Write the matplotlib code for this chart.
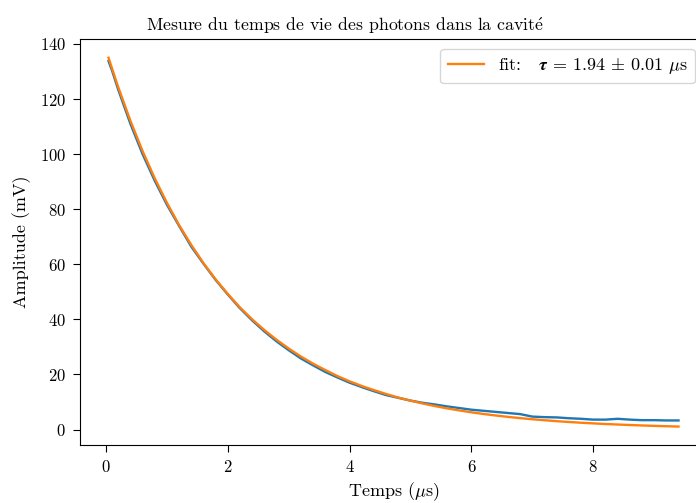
"""Photon lifetime in the cavity: measured ring-down and exponential fit."""

import matplotlib
matplotlib.use("Agg")
import matplotlib.pyplot as plt

t_data = [0.04, 0.1, 0.2, 0.4, 0.6, 0.8, 1.0, 1.2, 1.4, 1.6, 1.8, 2.0, 2.2, 2.4,
          2.6, 2.8, 3.0, 3.2, 3.4, 3.6, 3.8, 4.0, 4.2, 4.4, 4.6, 4.8, 5.0, 5.2,
          5.4, 5.6, 5.8, 6.0, 6.2, 6.4, 6.6, 6.8, 7.0, 7.2, 7.4, 7.6, 7.8, 8.0,
          8.2, 8.4, 8.6, 8.8, 9.0, 9.2, 9.4]
amp_data = [133.8, 130.2, 123.4, 111.0, 100.0, 90.3, 81.6, 73.9, 66.4, 60.2,
            54.3, 49.0, 44.0, 39.6, 35.6, 32.0, 28.8, 25.8, 23.3, 20.9, 18.9,
            17.0, 15.4, 13.9, 12.5, 11.5, 10.5, 9.7, 9.1, 8.4, 7.8, 7.2, 6.8,
            6.4, 6.0, 5.6, 4.7, 4.5, 4.4, 4.1, 3.9, 3.6, 3.6, 3.9, 3.6, 3.4,
            3.4, 3.3, 3.3]

# fitted curve
t_fit = [0.04, 0.2, 0.4, 0.6, 0.8, 1.0, 1.2, 1.4, 1.6, 1.8, 2.0, 2.2, 2.4,
         2.6, 2.8, 3.0, 3.2, 3.4, 3.6, 3.8, 4.0, 4.2, 4.4, 4.6, 4.8, 5.0, 5.2,
         5.4, 5.6, 5.8, 6.0, 6.2, 6.4, 6.6, 6.8, 7.0, 7.2, 7.4, 7.6, 7.8, 8.0,
         8.2, 8.4, 8.6, 8.8, 9.0, 9.2, 9.4]
amp_fit = [135.0, 124.3, 112.1, 101.1, 91.2, 82.3, 74.2, 67.0, 60.4, 54.5,
           49.2, 44.3, 40.0, 36.1, 32.6, 29.4, 26.5, 23.9, 21.6, 19.4, 17.5,
           15.8, 14.3, 12.9, 11.6, 10.5, 9.45, 8.52, 7.69, 6.93, 6.25, 5.64,
           5.09, 4.59, 4.14, 3.74, 3.37, 3.04, 2.74, 2.47, 2.23, 2.01, 1.82,
           1.64, 1.48, 1.33, 1.20, 1.08]

fit_label = r"fit:   $\boldsymbol{\tau}$ = 1.94 $\pm$ 0.01 $\mu$s"
title = r"Mesure du temps de vie des photons dans la cavit$\mathrm{\acute{e}}$"

plt.rcParams["font.family"] = ["cmr10", "DejaVu Serif"]
plt.rcParams["mathtext.fontset"] = "cm"
plt.rcParams["axes.formatter.use_mathtext"] = True
plt.rcParams["font.size"] = 13
plt.rcParams["xtick.labelsize"] = 12
plt.rcParams["ytick.labelsize"] = 12
plt.rcParams["xtick.major.size"] = 5
plt.rcParams["ytick.major.size"] = 5
plt.rcParams["xtick.major.pad"] = 5
plt.rcParams["ytick.major.pad"] = 5

fig = plt.figure(figsize=(6.96, 5.03), dpi=100)
ax = fig.add_axes([80 / 696, 1 - 445 / 503, 627 / 696, 405.7 / 503])

ax.plot(t_data, amp_data, color="#1f77b4", lw=1.7)
ax.plot(t_fit, amp_fit, color="#ff7f0e", lw=1.7, label=fit_label)

ax.set_xticks([0, 2, 4, 6, 8])
ax.set_yticks(range(0, 141, 20))
ax.set_xlabel(r"Temps ($\mu$s)")
ax.set_ylabel("Amplitude (mV)", labelpad=6)
ax.set_title(title, x=(345 - 80) / 627, fontsize=12.8)

ax.legend(loc="upper right", bbox_to_anchor=(695 / 696, 1 - 49 / 503),
          bbox_transform=fig.transFigure, borderaxespad=0)

fig.savefig("out.png", dpi=100)
